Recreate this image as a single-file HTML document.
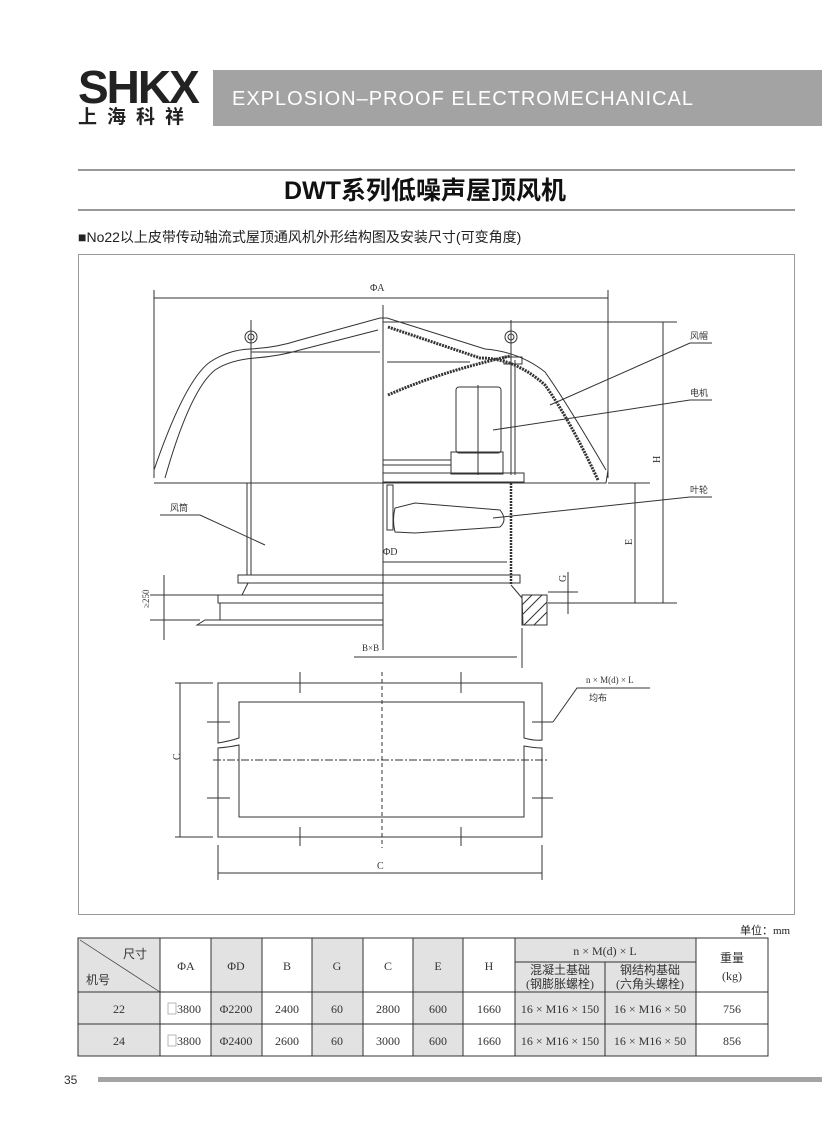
<!DOCTYPE html>
<html><head><meta charset="utf-8"><style>
body{margin:0;background:#fff;}
.page{position:relative;width:822px;height:1122px;overflow:hidden;background:#fff;font-family:"Liberation Sans","Noto Sans CJK SC",sans-serif;}
.abs{position:absolute;}
</style></head><body><div class="page">
<div class="abs" style="left:78px;top:62px;font:bold 46px 'Liberation Sans',sans-serif;color:#222;letter-spacing:-2px;line-height:50px;">SHKX</div>
<div class="abs" style="left:78px;top:105px;font:bold 19px 'Noto Sans CJK SC',sans-serif;color:#222;letter-spacing:10px;line-height:22px;">上海科祥</div>
<div class="abs" style="left:213px;top:70px;width:609px;height:56px;background:#a3a3a3;"></div>
<div class="abs" style="left:232px;top:85px;font:20px 'Liberation Sans',sans-serif;color:#fff;letter-spacing:1px;line-height:28px;">EXPLOSION–PROOF ELECTROMECHANICAL</div>
<div class="abs" style="left:78px;top:169px;width:717px;height:2px;background:#999;"></div>
<div class="abs" style="left:78px;top:209px;width:717px;height:2px;background:#999;"></div>
<div class="abs" style="left:0;top:174px;width:850px;text-align:center;font:bold 25px 'Liberation Sans','Noto Sans CJK SC',sans-serif;color:#111;line-height:34px;">DWT系列低噪声屋顶风机</div>
<div class="abs" style="left:78px;top:227px;font:14px 'Liberation Sans','Noto Sans CJK SC',sans-serif;color:#222;line-height:20px;">■No22以上皮带传动轴流式屋顶通风机外形结构图及安装尺寸(可变角度)</div>
<div class="abs" style="left:78px;top:254px;width:715px;height:659px;border:1px solid #999;"></div>

<svg class="abs" style="left:0;top:0" width="822" height="1122" viewBox="0 0 822 1122" font-family="Liberation Serif,Noto Sans CJK SC,serif">
<g stroke="#333" stroke-width="1" fill="none">
<line x1="154" y1="290" x2="154" y2="478"/><line x1="608" y1="290" x2="608" y2="478"/>
<line x1="154" y1="298" x2="608" y2="298"/>
<line x1="383" y1="305" x2="383" y2="650"/>
<path d="M154 470 Q185 380 210 362 Q228 350 250 349 Q275 348 300 340 L380 318 L387 318 L485 349 Q520 352 545 372 Q565 400 606 470"/>
<path d="M154 483 L606 483 L608 470"/>
<path d="M165 478 Q190 390 215 370 Q230 360 255 358 Q280 356 300 350 L378 330"/>
<line x1="251" y1="352" x2="380" y2="352"/><line x1="387" y1="362" x2="470" y2="362"/>
<path d="M388 327 L480 358 Q515 358 545 385 Q570 420 598 480" stroke-width="3" stroke-dasharray="2 1"/>
<path d="M388 395 Q440 372 510 356" stroke-width="3" stroke-dasharray="2 1"/>
<circle cx="251" cy="337" r="6"/><circle cx="251" cy="337" r="3"/>
<circle cx="511" cy="337" r="6"/><circle cx="511" cy="337" r="3"/>
<line x1="251" y1="320" x2="251" y2="575"/>
<line x1="511" y1="320" x2="511" y2="475"/><line x1="515" y1="360" x2="515" y2="475"/>
<rect x="504" y="357" width="18" height="7"/>
<rect x="456" y="387" width="45" height="66" rx="3"/>
<line x1="478" y1="385" x2="478" y2="475"/>
<rect x="451" y="452" width="52" height="22"/>
<line x1="383" y1="460" x2="451" y2="460"/><line x1="383" y1="465" x2="451" y2="465"/>
<rect x="383" y="473" width="141" height="9"/>
<line x1="247" y1="483" x2="247" y2="575"/>
<path d="M511 483 L511 585" stroke-width="2.5" stroke-dasharray="2 1"/>
<rect x="238" y="575" width="282" height="8"/>
<path d="M248 583 L242 595 M511 585 L522 598 L523 625"/>
<rect x="218" y="595" width="165" height="8"/>
<rect x="220" y="603" width="163" height="17"/>
<path d="M197 625 L205 620 L383 620 L383 625 Z"/>
<path d="M395 508 Q392 520 395 532 L415 533 L500 527 Q508 520 500 510 L415 503 Z"/>
<rect x="387" y="485" width="6" height="45"/>
<rect x="522" y="595" width="25" height="30"/>
<path d="M522 605 L532 595 M522 615 L542 595 M524 625 L547 602 M534 625 L547 612" />
<line x1="548" y1="603" x2="677" y2="603"/>
<line x1="383" y1="322" x2="677" y2="322"/>
<line x1="608" y1="483" x2="650" y2="483"/>
<line x1="663" y1="322" x2="663" y2="603"/>
<line x1="635" y1="483" x2="635" y2="603"/>
<line x1="568" y1="572" x2="568" y2="614"/>
<line x1="548" y1="592" x2="578" y2="592"/>
<line x1="383" y1="562" x2="507" y2="562"/>
<line x1="164" y1="575" x2="164" y2="640"/>
<line x1="150" y1="595" x2="218" y2="595"/><line x1="150" y1="620" x2="200" y2="620"/>
<line x1="354" y1="657" x2="517" y2="657"/>
<line x1="522" y1="628" x2="522" y2="668"/>
<polyline points="550,405 690,343 712,343"/>
<polyline points="493,430 690,400 712,400"/>
<polyline points="493,518 690,497 712,497"/>
<polyline points="160,515 200,515 265,545"/>
<path d="M218 683 L542 683 L542 740 Q535 741 524 738 L524 702 L239 702 L239 738 Q230 741 218 743 Z"/>
<path d="M218 748 Q230 747 239 745 L239 817 L524 817 L524 746 Q535 748 542 748 L542 837 L218 837 Z"/>
<line x1="213" y1="760" x2="548" y2="760" stroke-dasharray="8 2 2 2"/>
<line x1="382" y1="672" x2="382" y2="848" stroke-dasharray="4 3"/>
<line x1="300" y1="672" x2="300" y2="693"/><line x1="461" y1="672" x2="461" y2="693"/>
<line x1="300" y1="827" x2="300" y2="846"/><line x1="461" y1="827" x2="461" y2="846"/>
<line x1="207" y1="722" x2="230" y2="722"/><line x1="207" y1="798" x2="230" y2="798"/>
<line x1="532" y1="722" x2="553" y2="722"/><line x1="532" y1="798" x2="553" y2="798"/>
<polyline points="553,722 577,688 650,688"/>
<line x1="180" y1="683" x2="180" y2="837"/>
<line x1="175" y1="683" x2="213" y2="683"/><line x1="175" y1="837" x2="213" y2="837"/>
<line x1="218" y1="845" x2="218" y2="880"/><line x1="542" y1="845" x2="542" y2="880"/>
<line x1="218" y1="873" x2="542" y2="873"/>
</g>
<g fill="#333" font-size="10">
<text x="370" y="291">ΦA</text>
<text x="383" y="555">ΦD</text>
<text x="362" y="651" font-size="9">B×B</text>
<text x="377" y="869">C</text>
<text x="176" y="764" transform="rotate(-90 176 760)">C</text>
<text x="656" y="467" transform="rotate(-90 656 463)">H</text>
<text x="628" y="549" transform="rotate(-90 628 545)">E</text>
<text x="562" y="586" transform="rotate(-90 562 582)">G</text>
<text x="145" y="612" font-size="9" transform="rotate(-90 145 608)">≥250</text>
<text x="690" y="339" font-size="9">风帽</text>
<text x="690" y="396" font-size="9">电机</text>
<text x="690" y="493" font-size="9">叶轮</text>
<text x="170" y="511" font-size="9">风筒</text>
<text x="586" y="683" font-size="9">n × M(d) × L</text>
<text x="589" y="701" font-size="9">均布</text>
</g>
</svg>

<div class="abs" style="left:740px;top:922px;font:11px 'Liberation Serif','Noto Sans CJK SC',serif;color:#222;">单位：mm</div>
<svg class="abs" style="left:0;top:0" width="822" height="1122" font-family="Liberation Serif,Noto Sans CJK SC,serif" font-size="12">
<g fill="#e2e2e2">
<rect x="78" y="938" width="82" height="54"/><rect x="211" y="938" width="51" height="54"/><rect x="312" y="938" width="51" height="54"/><rect x="413" y="938" width="50" height="54"/><rect x="515" y="938" width="181" height="54"/>
<rect x="78" y="992" width="82" height="64"/><rect x="211" y="992" width="51" height="64"/><rect x="312" y="992" width="51" height="64"/><rect x="413" y="992" width="50" height="64"/><rect x="515" y="992" width="181" height="64"/>
</g>
<g stroke="#333" stroke-width="1" fill="none">
<rect x="78" y="938" width="690" height="118"/>
<line x1="78" y1="992" x2="768" y2="992"/><line x1="78" y1="1024" x2="768" y2="1024"/>
<line x1="515" y1="962" x2="696" y2="962"/>
<line x1="160" y1="938" x2="160" y2="1056"/><line x1="211" y1="938" x2="211" y2="1056"/><line x1="262" y1="938" x2="262" y2="1056"/><line x1="312" y1="938" x2="312" y2="1056"/><line x1="363" y1="938" x2="363" y2="1056"/><line x1="413" y1="938" x2="413" y2="1056"/><line x1="463" y1="938" x2="463" y2="1056"/><line x1="515" y1="938" x2="515" y2="1056"/><line x1="696" y1="938" x2="696" y2="1056"/>
<line x1="605" y1="962" x2="605" y2="1056"/>
<line x1="80" y1="940" x2="160" y2="992" stroke-width="0.7"/>
<rect x="168" y="1003" width="8" height="11" stroke="#999" stroke-width="0.7"/><rect x="168" y="1035" width="8" height="11" stroke="#999" stroke-width="0.7"/>
</g>
<g fill="#333" text-anchor="middle">
<text x="135" y="958">尺寸</text><text x="98" y="984">机号</text>
<text x="186" y="970">ΦA</text><text x="236" y="970">ΦD</text><text x="287" y="970">B</text><text x="337" y="970">G</text><text x="388" y="970">C</text><text x="438" y="970">E</text><text x="489" y="970">H</text>
<text x="605" y="955">n × M(d) × L</text>
<text x="560" y="974">混凝土基础</text><text x="560" y="988">(钢膨胀螺栓)</text>
<text x="650" y="974">钢结构基础</text><text x="650" y="988">(六角头螺栓)</text>
<text x="732" y="962">重量</text><text x="732" y="980">(kg)</text>
<text x="119" y="1013">22</text><text x="189" y="1013">3800</text><text x="236" y="1013">Φ2200</text><text x="287" y="1013">2400</text><text x="337" y="1013">60</text><text x="388" y="1013">2800</text><text x="438" y="1013">600</text><text x="489" y="1013">1660</text><text x="560" y="1013">16 × M16 × 150</text><text x="650" y="1013">16 × M16 × 50</text><text x="732" y="1013">756</text>
<text x="119" y="1045">24</text><text x="189" y="1045">3800</text><text x="236" y="1045">Φ2400</text><text x="287" y="1045">2600</text><text x="337" y="1045">60</text><text x="388" y="1045">3000</text><text x="438" y="1045">600</text><text x="489" y="1045">1660</text><text x="560" y="1045">16 × M16 × 150</text><text x="650" y="1045">16 × M16 × 50</text><text x="732" y="1045">856</text>
</g>
</svg>
<div class="abs" style="left:64px;top:1073px;font:12px 'Liberation Sans',sans-serif;color:#333;">35</div>
<div class="abs" style="left:98px;top:1077px;width:724px;height:5px;background:#a3a3a3;"></div>
</div></body></html>
